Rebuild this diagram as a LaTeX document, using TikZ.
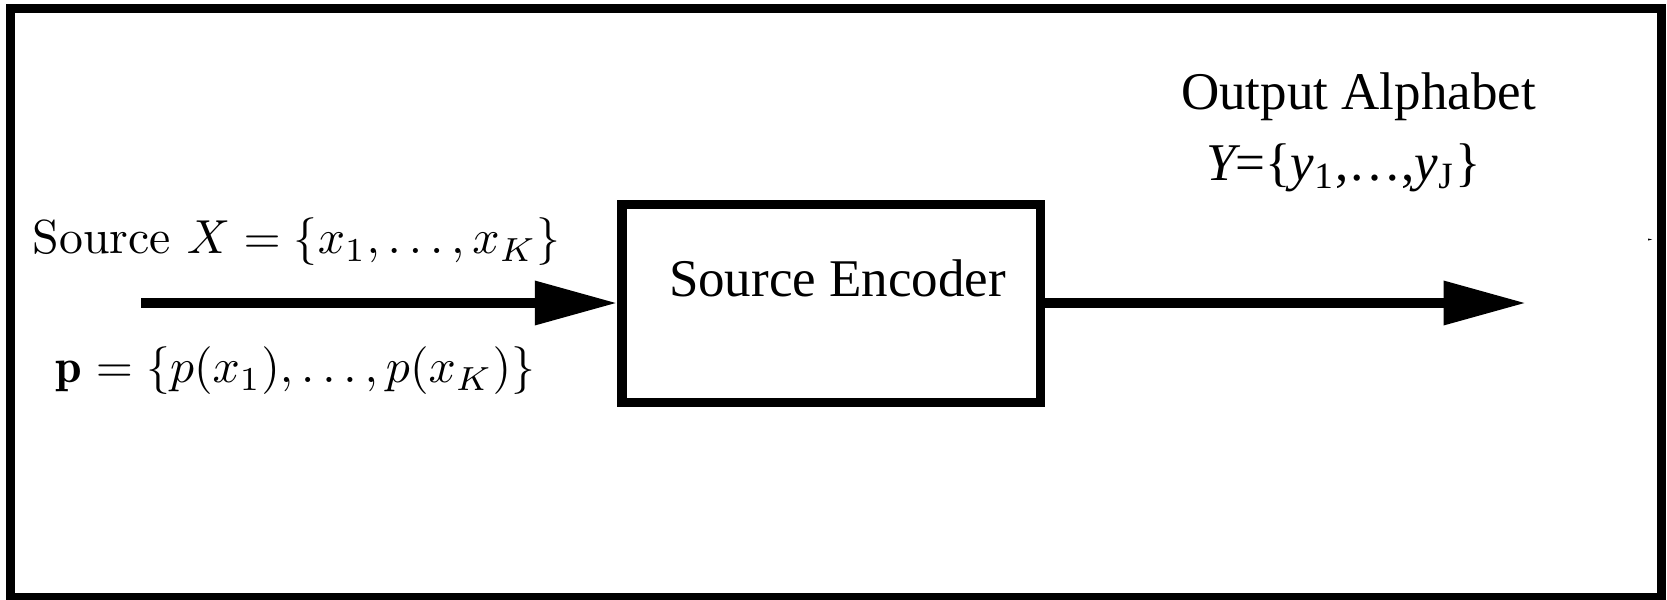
\documentclass[tikz,border=0pt]{standalone}
\usepackage{fontspec}
\newfontfamily\timesfont{Liberation Serif}
\usetikzlibrary{arrows.meta}
\begin{document}
\begin{tikzpicture}[x=0.2pt,y=-0.2pt,
  frame/.style={line width=1.85pt},
  block/.style={draw,line width=1.9pt,minimum width=83.7pt,minimum height=39.6pt,inner sep=0pt},
  flow/.style={line width=2pt,-{Triangle[length=16.5pt,width=8.4pt]}},
  cmlabel/.style={anchor=west,inner sep=0pt,scale=0.955,font=\fontsize{10}{12}\selectfont},
  tmlabel/.style={anchor=west,inner sep=0pt,font=\timesfont\fontsize{10.6}{12}\selectfont}]
\useasboundingbox (0,0) rectangle (1667,600);
% outer frame
\draw[frame] (10.5,8.5) rectangle (1661.75,597.5);
% encoder block and its caption
\node[block] (enc) at (831.25,303.5) {};
\node[tmlabel] (enctext) at (668,278) {Source Encoder};
% input and output flows
\coordinate (in) at (141,303);
\coordinate (out) at (1526,303);
\draw[flow] (in) -- (enc.west |- in);
\draw[flow] (enc.east |- out) -- (out);
% source description
\node[cmlabel] (src) at (32,242) {Source $X=\{x_1,\ldots,x_K\}$};
\node[cmlabel] (prob) at (55,371) {$\mathbf{p}=\{p(x_1),\ldots,p(x_K)\}$};
% output alphabet
\node[tmlabel] (outname) at (1180,97) {Output Alphabet};
\node[tmlabel] (outset) at (1205,168) {\itshape Y\upshape=\{\itshape y\upshape\textsubscript{1},\ldots,\itshape y\upshape\textsubscript{J}\}};
% small stray mark near the right border
\fill (1648,238.5) -- (1652,239.5) -- (1648,240.5) -- cycle;
\end{tikzpicture}
\end{document}
